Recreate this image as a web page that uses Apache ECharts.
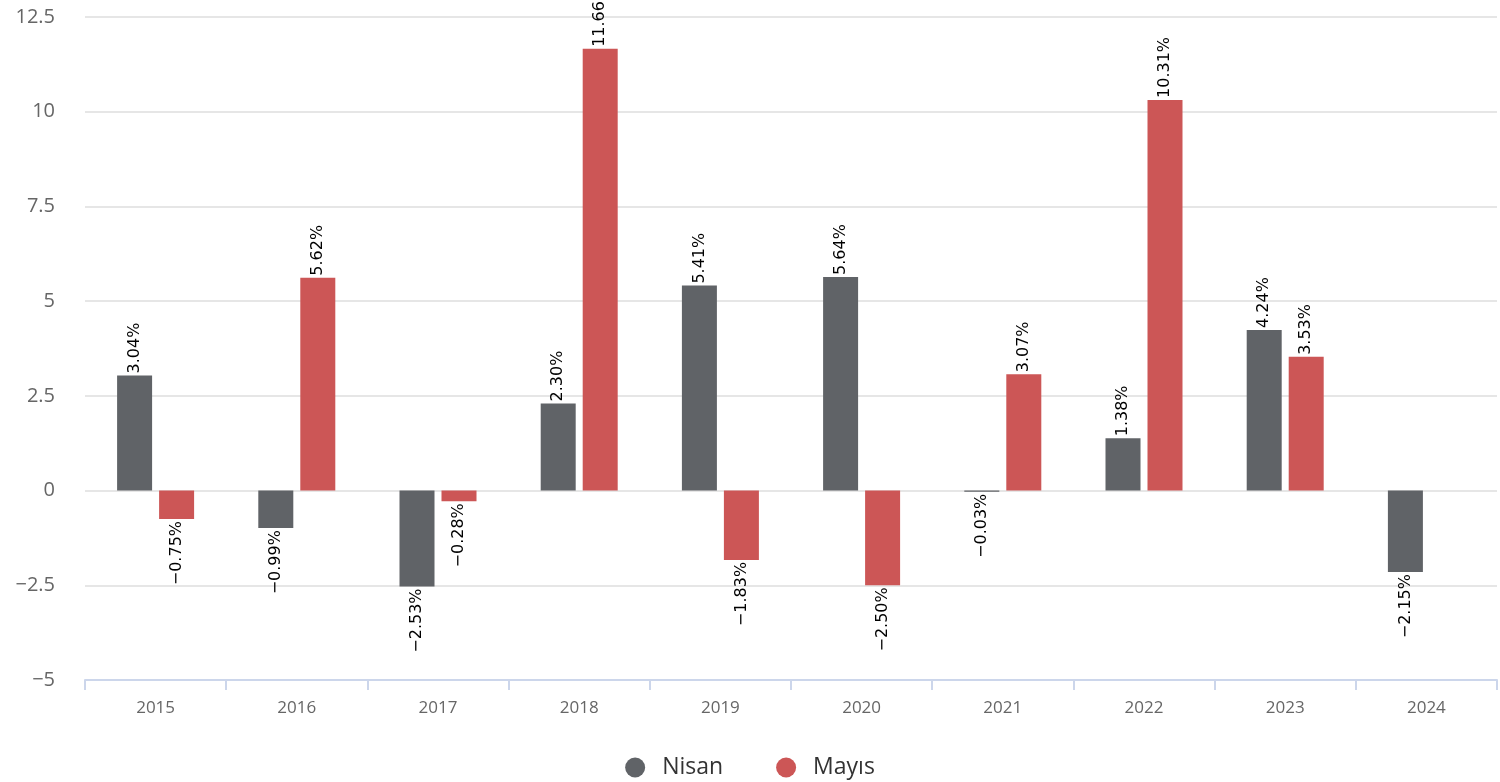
<!DOCTYPE html>
<html>
<head>
<meta charset="utf-8">
<script src="https://cdn.jsdelivr.net/npm/echarts@6/dist/echarts.min.js"></script>
<style>
html,body{margin:0;padding:0;background:#fff;}
#c{width:1500px;height:782px;}
</style>
</head>
<body>
<div id="c"></div>
<script>
const categories = ['2015','2016','2017','2018','2019','2020','2021','2022','2023','2024'];
const nisan = [3.04, -0.99, -2.53, 2.30, 5.41, 5.64, -0.03, 1.38, 4.24, -2.15];
const mayis = [-0.75, 5.62, -0.28, 11.66, -1.83, -2.50, 3.07, 10.31, 3.53, null];
const seriesNames = ['Nisan', 'Mayıs'];
const colors = ['#606367', '#cc5656'];

function fmtNum(v){ return String(v).replace('-', '\u2212'); }

function buildData(arr){
  return arr.map(v => {
    if (v === null) return null;
    const neg = v < 0;
    return {
      value: v,
      label: neg
        ? {position: 'bottom', align: 'right'}
        : {position: 'top', align: 'left'}
    };
  });
}

const labelBase = {
  show: true,
  rotate: 90,
  verticalAlign: 'middle',
  distance: 2,
  color: '#000',
  fontFamily: 'DejaVu Sans',
  fontSize: 16,
  formatter: p => (p.value < 0 ? '\u2212' : '') + Math.abs(p.value).toFixed(2) + '%'
};

const chart = echarts.init(document.getElementById('c'), null, {renderer: 'canvas'});
chart.setOption({
  animation: false,
  backgroundColor: '#fff',
  color: colors,
  grid: {left: 85, right: 3, top: 17, bottom: 102, containLabel: false},
  legend: {
    top: 751,
    left: 'center',
    icon: 'circle',
    itemWidth: 44,
    itemHeight: 20,
    itemGap: 53,
    textStyle: {fontFamily: 'Open Sans', fontSize: 23, color: '#333'},
    data: seriesNames
  },
  xAxis: {
    type: 'category',
    data: categories,
    axisLine: {onZero: false, lineStyle: {color: '#ccd6eb', width: 2}},
    axisTick: {show: true, length: 10, lineStyle: {color: '#ccd6eb', width: 2}},
    axisLabel: {margin: 20, color: '#666', fontFamily: 'Open Sans', fontSize: 17}
  },
  yAxis: {
    type: 'value',
    min: -5,
    max: 12.5,
    interval: 2.5,
    axisLine: {show: false},
    axisTick: {show: false},
    splitLine: {lineStyle: {color: '#e6e6e6', width: 2}},
    axisLabel: {margin: 30, color: '#666', fontFamily: 'Open Sans', fontSize: 20, formatter: v => fmtNum(v)}
  },
  series: [
    {name: seriesNames[0], type: 'bar', data: buildData(nisan), barWidth: 35, barGap: '20%', label: labelBase},
    {name: seriesNames[1], type: 'bar', data: buildData(mayis), barWidth: 35, barGap: '20%', label: labelBase}
  ]
});
</script>
</body>
</html>
